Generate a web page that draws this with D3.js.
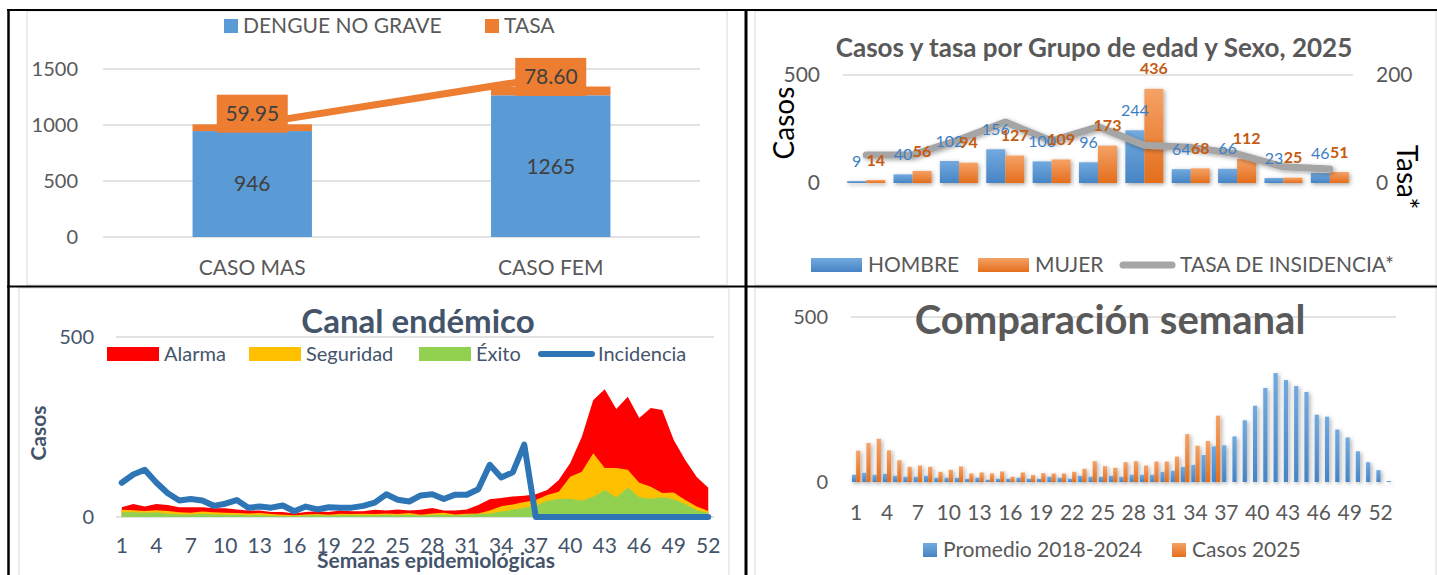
<!DOCTYPE html>
<html>
<head>
<meta charset="utf-8">
<script src="https://cdn.jsdelivr.net/npm/d3@7"></script>
<style>
    body { margin: 0; background: #fff; }
    text { font-family: Lato, "Open Sans", sans-serif; }
</style>
</head>
<body>
<div id="chart"></div>
<script>
// ---- data: casos por sexo ----
var categorias = ["CASO MAS", "CASO FEM"];
var dengueNoGrave = [946, 1265];
var tasa = [59.95, 78.60];

// ---- data: casos y tasa por grupo de edad y sexo ----
var gruposEdad = ["G1", "G2", "G3", "G4", "G5", "G6", "G7", "G8", "G9", "G10", "G11"];
var hombre = [9, 40, 102, 156, 100, 96, 244, 64, 66, 23, 46];
var mujer = [14, 56, 94, 127, 109, 173, 436, 68, 112, 25, 51];
var tasaIncidencia = [52, 52, 80, 113, 78, 104, 70, 66, 54, 30, 26];

// ---- data: canal endemico (semanas 1-52) ----
var semanasCanal = [1,2,3,4,5,6,7,8,9,10,11,12,13,14,15,16,17,18,19,20,21,22,23,24,25,26,
    27,28,29,30,31,32,33,34,35,36,37,38,39,40,41,42,43,44,45,46,47,48,49,50,51,52];
var alarma = [27,36,29,36,33,27,27,27,24,24,21,18,18,14,14,10,14,16,14,18,16,16,20,18,21,18,
    20,25,18,18,21,33,49,53,57,59,63,75,103,150,222,325,355,300,334,275,303,297,214,158,111,81];
var seguridad = [20,19,17,19,17,13,12,15,13,12,11,10,11,8,6,5,7,8,6,9,8,9,8,10,8,11,
    6,10,12,7,9,10,18,30,35,42,47,61,70,112,126,177,136,136,131,95,84,67,68,47,29,17];
var exito = [13,13,12,13,9,7,7,9,7,6,6,5,5,4,3,3,4,5,4,5,5,5,5,6,5,6,
    4,6,6,5,6,8,10,15,20,26,31,45,50,51,45,56,75,54,82,55,51,55,49,36,19,11];
var incidencia = [95,118,131,96,66,46,50,46,31,37,47,26,29,26,32,16,29,21,27,26,26,31,40,63,48,43,
    60,63,50,62,62,77,145,110,124,201,0,0,0,0,0,0,0,0,0,0,0,0,0,0,0,0];

// ---- data: comparacion semanal (semanas 1-53) ----
var semanasComp = [1,2,3,4,5,6,7,8,9,10,11,12,13,14,15,16,17,18,19,20,21,22,23,24,25,26,
    27,28,29,30,31,32,33,34,35,36,37,38,39,40,41,42,43,44,45,46,47,48,49,50,51,52,53];
var promedio = [22,28,22,25,19,16,16,19,13,13,13,10,13,7,10,10,13,10,10,16,13,10,19,16,16,19,
    16,22,22,22,31,34,46,52,82,108,111,138,187,231,285,330,309,291,273,204,198,159,135,93,60,36,3];
var casos2025 = [95,118,131,96,66,46,50,46,31,37,47,26,29,26,32,16,29,21,27,26,26,31,40,63,48,43,
    60,63,50,62,62,77,145,110,124,201];

var tickSemanas = [1,4,7,10,13,16,19,22,25,28,31,34,37,40,43,46,49,52];

var BLUE = "#5b9bd5", ORANGE = "#ed7d31", GRID = "#d9d9d9";
var GRAY_TXT = "#595959", SLATE = "#44546a";

var W = 1437, H = 575;
var svg = d3.select("#chart").append("svg")
    .attr("width", W)
    .attr("height", H);

// gradients + shadow
var defs = svg.append("defs");
function grad(id, c1, c2) {
    var g = defs.append("linearGradient").attr("id", id)
        .attr("x1", 0).attr("y1", 0).attr("x2", 0).attr("y2", 1);
    g.append("stop").attr("offset", "0%").attr("stop-color", c1);
    g.append("stop").attr("offset", "100%").attr("stop-color", c2);
}
grad("gBlue", "#72aadf", "#4784c4");
grad("gOrange", "#f5a266", "#e46e1c");
var f = defs.append("filter").attr("id", "shadow")
    .attr("x", "-30%").attr("y", "-30%").attr("width", "160%").attr("height", "160%");
f.append("feDropShadow").attr("dx", 1.5).attr("dy", 1.5).attr("stdDeviation", 2)
    .attr("flood-color", "#000").attr("flood-opacity", 0.35);

// panel frames
var frames = [[27, 11, 700, 274], [755, 11, 681, 274], [19, 288, 710, 290], [755, 288, 681, 290]];
svg.selectAll("rect.frame").data(frames).enter().append("rect")
    .attr("class", "frame")
    .attr("x", function (d) { return d[0]; })
    .attr("y", function (d) { return d[1]; })
    .attr("width", function (d) { return d[2]; })
    .attr("height", function (d) { return d[3]; })
    .style("fill", "none")
    .style("stroke", "#d9d9d9");

/*************************** Panel 1: casos por sexo ***************************/
var p1 = svg.append("g");
var x1 = d3.scaleBand().domain(categorias).range([103, 700]).paddingInner(0.6).paddingOuter(0.3);
var y1 = d3.scaleLinear().domain([0, 1500]).range([237, 69]);

p1.selectAll("line.grid").data([0, 500, 1000, 1500]).enter().append("line")
    .attr("x1", 103).attr("x2", 700)
    .attr("y1", function (d) { return y1(d); })
    .attr("y2", function (d) { return y1(d); })
    .style("stroke", GRID).style("stroke-width", 1.5);
p1.selectAll("text.tick").data([0, 500, 1000, 1500]).enter().append("text")
    .attr("x", 78).attr("y", function (d) { return y1(d); })
    .attr("dy", "0.35em")
    .style("text-anchor", "end").style("font-size", "20px").style("fill", GRAY_TXT)
    .text(function (d) { return d; });

// stacked bars
p1.selectAll("rect.dng").data(categorias).enter().append("rect")
    .attr("x", function (d) { return x1(d); })
    .attr("width", x1.bandwidth())
    .attr("y", function (d, i) { return y1(dengueNoGrave[i]); })
    .attr("height", function (d, i) { return y1(0) - y1(dengueNoGrave[i]); })
    .style("fill", BLUE);
p1.selectAll("rect.tasa").data(categorias).enter().append("rect")
    .attr("x", function (d) { return x1(d); })
    .attr("width", x1.bandwidth())
    .attr("y", function (d, i) { return y1(dengueNoGrave[i] + tasa[i]); })
    .attr("height", function (d, i) { return y1(dengueNoGrave[i]) - y1(dengueNoGrave[i] + tasa[i]); })
    .style("fill", ORANGE);

p1.selectAll("text.dngLbl").data(categorias).enter().append("text")
    .attr("x", function (d) { return x1(d) + x1.bandwidth() / 2; })
    .attr("y", function (d, i) { return y1(dengueNoGrave[i] / 2); })
    .attr("dy", "0.35em")
    .style("text-anchor", "middle").style("font-size", "21px").style("fill", "#404040")
    .text(function (d, i) { return dengueNoGrave[i]; });

// tasa label boxes and connector line
var boxW = 71, boxH = 38;
function boxCy(i) { return y1(dengueNoGrave[i] + tasa[i] / 2) - 14; }
function cx1(i) { return x1(categorias[i]) + x1.bandwidth() / 2; }
p1.append("line")
    .attr("x1", cx1(0)).attr("y1", y1(dengueNoGrave[0] + tasa[0]))
    .attr("x2", cx1(1)).attr("y2", boxCy(1))
    .style("stroke", ORANGE).style("stroke-width", 7);
p1.selectAll("rect.tasaBox").data(categorias).enter().append("rect")
    .attr("x", function (d, i) { return cx1(i) - boxW / 2; })
    .attr("y", function (d, i) { return boxCy(i) - boxH / 2; })
    .attr("width", boxW).attr("height", boxH)
    .style("fill", ORANGE);
p1.selectAll("text.tasaLbl").data(categorias).enter().append("text")
    .attr("x", function (d, i) { return cx1(i); })
    .attr("y", function (d, i) { return boxCy(i); })
    .attr("dy", "0.35em")
    .style("text-anchor", "middle").style("font-size", "21px").style("fill", "#404040")
    .text(function (d, i) { return tasa[i].toFixed(2); });

p1.selectAll("text.cat").data(categorias).enter().append("text")
    .attr("x", function (d) { return x1(d) + x1.bandwidth() / 2; })
    .attr("y", 268).attr("dy", "0.35em")
    .style("text-anchor", "middle").style("font-size", "21px").style("fill", GRAY_TXT)
    .text(function (d) { return d; });

// legend
var lg1 = [["DENGUE NO GRAVE", BLUE, 224], ["TASA", ORANGE, 485]];
lg1.forEach(function (d) {
    p1.append("rect").attr("x", d[2]).attr("y", 19).attr("width", 14).attr("height", 14).style("fill", d[1]);
    p1.append("text").attr("x", d[2] + 19).attr("y", 26).attr("dy", "0.35em")
        .style("font-size", "21px").style("fill", GRAY_TXT).text(d[0]);
});

/*************************** Panel 2: grupo de edad y sexo ***************************/
var p2 = svg.append("g");
var x2 = d3.scaleBand().domain(gruposEdad).range([843, 1353]);
var xs2 = d3.scaleBand().domain(["h", "m"]).range([0, x2.bandwidth()]).paddingOuter(0.22);
var y2 = d3.scaleLinear().domain([0, 500]).range([183, 75]);
var y2r = d3.scaleLinear().domain([0, 200]).range([183, 75]);

p2.append("line").attr("x1", 843).attr("x2", 1353).attr("y1", y2(500)).attr("y2", y2(500))
    .style("stroke", GRID).style("stroke-width", 1.5);
p2.append("line").attr("x1", 843).attr("x2", 1353).attr("y1", y2(0) + 1).attr("y2", y2(0) + 1)
    .style("stroke", GRID).style("stroke-width", 2.5).attr("filter", "url(#shadow)");

p2.selectAll("text.tl").data([0, 500]).enter().append("text")
    .attr("x", 820).attr("y", function (d) { return y2(d); }).attr("dy", "0.35em")
    .style("text-anchor", "end").style("font-size", "21px").style("fill", GRAY_TXT)
    .text(function (d) { return d; });
p2.selectAll("text.tr").data([0, 200]).enter().append("text")
    .attr("x", 1376).attr("y", function (d) { return y2r(d); }).attr("dy", "0.35em")
    .style("text-anchor", "start").style("font-size", "21px").style("fill", GRAY_TXT)
    .text(function (d) { return d; });

var bars2 = p2.append("g").attr("filter", "url(#shadow)");
bars2.selectAll("rect.h").data(gruposEdad).enter().append("rect")
    .attr("x", function (d) { return x2(d) + xs2("h"); })
    .attr("width", xs2.bandwidth())
    .attr("y", function (d, i) { return y2(hombre[i]); })
    .attr("height", function (d, i) { return y2(0) - y2(hombre[i]); })
    .style("fill", "url(#gBlue)");
bars2.selectAll("rect.m").data(gruposEdad).enter().append("rect")
    .attr("x", function (d) { return x2(d) + xs2("m"); })
    .attr("width", xs2.bandwidth())
    .attr("y", function (d, i) { return y2(mujer[i]); })
    .attr("height", function (d, i) { return y2(0) - y2(mujer[i]); })
    .style("fill", "url(#gOrange)");

// tasa line (secondary axis)
var line2 = d3.line()
    .x(function (d, i) { return x2(gruposEdad[i]) + x2.bandwidth() / 2; })
    .y(function (d) { return y2r(d); });
p2.append("path").datum(tasaIncidencia)
    .attr("d", line2)
    .attr("filter", "url(#shadow)")
    .style("fill", "none").style("stroke", "#a5a5a5").style("stroke-width", 7)
    .style("stroke-linejoin", "round").style("stroke-linecap", "round");

p2.selectAll("text.hl").data(gruposEdad).enter().append("text")
    .attr("x", function (d) { return x2(d) + xs2("h") + xs2.bandwidth() / 2; })
    .attr("y", function (d, i) { return y2(hombre[i]) - 20; }).attr("dy", "0.35em")
    .style("text-anchor", "middle").style("font-size", "16px").style("fill", "#3d7fc6")
    .text(function (d, i) { return hombre[i]; });
p2.selectAll("text.ml").data(gruposEdad).enter().append("text")
    .attr("x", function (d) { return x2(d) + xs2("m") + xs2.bandwidth() / 2; })
    .attr("y", function (d, i) { return y2(mujer[i]) - 20; }).attr("dy", "0.35em")
    .style("text-anchor", "middle").style("font-size", "16px").style("font-weight", "bold")
    .style("fill", "#c55a11")
    .text(function (d, i) { return mujer[i]; });

p2.append("text").attr("x", 1094).attr("y", 57)
    .style("text-anchor", "middle").style("font-size", "26px").style("font-weight", "bold")
    .style("fill", GRAY_TXT).text("Casos y tasa por Grupo de edad y Sexo, 2025");
p2.append("text").attr("transform", "translate(784,123) rotate(-90)").attr("dy", "0.35em")
    .style("text-anchor", "middle").style("font-size", "28px").style("fill", "#000").text("Casos");
p2.append("text").attr("transform", "translate(1407,177) rotate(90)").attr("dy", "0.35em")
    .style("text-anchor", "middle").style("font-size", "28px").style("fill", "#000").text("Tasa*");

// legend
p2.append("rect").attr("x", 811).attr("y", 258).attr("width", 51).attr("height", 14).style("fill", "url(#gBlue)");
p2.append("text").attr("x", 868).attr("y", 265).attr("dy", "0.35em")
    .style("font-size", "21px").style("fill", GRAY_TXT).text("HOMBRE");
p2.append("rect").attr("x", 978).attr("y", 258).attr("width", 51).attr("height", 14).style("fill", "url(#gOrange)");
p2.append("text").attr("x", 1035).attr("y", 265).attr("dy", "0.35em")
    .style("font-size", "21px").style("fill", GRAY_TXT).text("MUJER");
p2.append("line").attr("x1", 1123).attr("x2", 1172).attr("y1", 265).attr("y2", 265)
    .style("stroke", "#a5a5a5").style("stroke-width", 7).style("stroke-linecap", "round");
p2.append("text").attr("x", 1180).attr("y", 265).attr("dy", "0.35em")
    .style("font-size", "21px").style("fill", GRAY_TXT).text("TASA DE INSIDENCIA*");

/*************************** Panel 3: canal endemico ***************************/
var p3 = svg.append("g");
var x3 = d3.scalePoint().domain(semanasCanal).range([121.75, 708.25]);
var y3 = d3.scaleLinear().domain([0, 500]).range([517, 337]);

p3.selectAll("line.grid").data([0, 500]).enter().append("line")
    .attr("x1", 116).attr("x2", 714)
    .attr("y1", function (d) { return y3(d); })
    .attr("y2", function (d) { return y3(d); })
    .style("stroke", GRID).style("stroke-width", 1.5);
p3.selectAll("text.tick").data([0, 500]).enter().append("text")
    .attr("x", 94).attr("y", function (d) { return y3(d); }).attr("dy", "0.35em")
    .style("text-anchor", "end").style("font-size", "20px").style("fill", SLATE)
    .text(function (d) { return d; });

function area3(vals) {
    return d3.area()
        .x(function (d, i) { return x3(semanasCanal[i]); })
        .y0(y3(0))
        .y1(function (d) { return y3(d); })(vals);
}
p3.append("path").attr("d", area3(alarma)).style("fill", "#ff0000");
p3.append("path").attr("d", area3(seguridad)).style("fill", "#ffc000");
p3.append("path").attr("d", area3(exito)).style("fill", "#92d050");

var line3 = d3.line()
    .x(function (d, i) { return x3(semanasCanal[i]); })
    .y(function (d) { return y3(d); });
p3.append("path").datum(incidencia).attr("d", line3)
    .style("fill", "none").style("stroke", "#2e75b6").style("stroke-width", 6)
    .style("stroke-linejoin", "round").style("stroke-linecap", "round");

p3.selectAll("text.xt").data(tickSemanas).enter().append("text")
    .attr("x", function (d) { return x3(d); }).attr("y", 546).attr("dy", "0.35em")
    .style("text-anchor", "middle").style("font-size", "21px").style("fill", SLATE)
    .text(function (d) { return d; });

p3.append("text").attr("x", 418).attr("y", 333)
    .style("text-anchor", "middle").style("font-size", "33px").style("font-weight", "bold")
    .style("fill", SLATE).text("Canal endémico");
p3.append("text").attr("x", 436).attr("y", 568)
    .style("text-anchor", "middle").style("font-size", "21px").style("font-weight", "bold")
    .style("fill", SLATE).text("Semanas epidemiológicas");
p3.append("text").attr("transform", "translate(39,433) rotate(-90)").attr("dy", "0.35em")
    .style("text-anchor", "middle").style("font-size", "21px").style("font-weight", "bold")
    .style("fill", SLATE).text("Casos");

// legend
var lg3 = [["Alarma", "#ff0000", 107], ["Seguridad", "#ffc000", 249], ["Éxito", "#92d050", 419]];
lg3.forEach(function (d) {
    p3.append("rect").attr("x", d[2]).attr("y", 347).attr("width", 52).attr("height", 14).style("fill", d[1]);
    p3.append("text").attr("x", d[2] + 57).attr("y", 354).attr("dy", "0.35em")
        .style("font-size", "20px").style("fill", SLATE).text(d[0]);
});
p3.append("line").attr("x1", 541).attr("x2", 592).attr("y1", 354).attr("y2", 354)
    .style("stroke", "#2e75b6").style("stroke-width", 6).style("stroke-linecap", "round");
p3.append("text").attr("x", 598).attr("y", 354).attr("dy", "0.35em")
    .style("font-size", "20px").style("fill", SLATE).text("Incidencia");

/*************************** Panel 4: comparacion semanal ***************************/
var p4 = svg.append("g");
var x4 = d3.scaleBand().domain(semanasComp).range([851, 1396]);
var y4 = d3.scaleLinear().domain([0, 500]).range([482, 317]);
var bw4 = 4.2;

p4.append("line").attr("x1", 851).attr("x2", 1396).attr("y1", y4(500)).attr("y2", y4(500))
    .style("stroke", GRID).style("stroke-width", 1.5);
p4.append("line").attr("x1", 851).attr("x2", 1396).attr("y1", y4(0) + 1).attr("y2", y4(0) + 1)
    .style("stroke", GRID).style("stroke-width", 3).attr("filter", "url(#shadow)");
p4.selectAll("text.tick").data([0, 500]).enter().append("text")
    .attr("x", 828).attr("y", function (d) { return y4(d); }).attr("dy", "0.35em")
    .style("text-anchor", "end").style("font-size", "20px").style("fill", GRAY_TXT)
    .text(function (d) { return d; });

var bars4 = p4.append("g").attr("filter", "url(#shadow)");
bars4.selectAll("rect.p").data(semanasComp).enter().append("rect")
    .attr("x", function (d) { return x4(d) + x4.bandwidth() / 2 - bw4; })
    .attr("width", bw4)
    .attr("y", function (d, i) { return y4(promedio[i]); })
    .attr("height", function (d, i) { return y4(0) - y4(promedio[i]); })
    .style("fill", "url(#gBlue)");
bars4.selectAll("rect.c").data(casos2025).enter().append("rect")
    .attr("x", function (d, i) { return x4(semanasComp[i]) + x4.bandwidth() / 2; })
    .attr("width", bw4)
    .attr("y", function (d) { return y4(d); })
    .attr("height", function (d) { return y4(0) - y4(d); })
    .style("fill", "url(#gOrange)");

p4.selectAll("text.xt").data(tickSemanas).enter().append("text")
    .attr("x", function (d) { return x4(d) + x4.bandwidth() / 2; }).attr("y", 513).attr("dy", "0.35em")
    .style("text-anchor", "middle").style("font-size", "21px").style("fill", GRAY_TXT)
    .text(function (d) { return d; });

p4.append("text").attr("x", 1110).attr("y", 334)
    .style("text-anchor", "middle").style("font-size", "40px").style("font-weight", "bold")
    .style("fill", GRAY_TXT).text("Comparación semanal");

p4.append("rect").attr("x", 923).attr("y", 543).attr("width", 14).attr("height", 14).style("fill", "url(#gBlue)");
p4.append("text").attr("x", 943).attr("y", 550).attr("dy", "0.35em")
    .style("font-size", "21px").style("fill", GRAY_TXT).text("Promedio 2018-2024");
p4.append("rect").attr("x", 1172).attr("y", 543).attr("width", 14).attr("height", 14).style("fill", "url(#gOrange)");
p4.append("text").attr("x", 1192).attr("y", 550).attr("dy", "0.35em")
    .style("font-size", "21px").style("fill", GRAY_TXT).text("Casos 2025");

/*************************** black separators ***************************/
var seps = [[7, 10, 1437, 10, 2], [8.5, 10, 8.5, 575, 2.5], [746, 10, 746, 575, 3], [7, 286.5, 1437, 286.5, 2]];
svg.selectAll("line.sep").data(seps).enter().append("line")
    .attr("x1", function (d) { return d[0]; }).attr("y1", function (d) { return d[1]; })
    .attr("x2", function (d) { return d[2]; }).attr("y2", function (d) { return d[3]; })
    .style("stroke", "#000").style("stroke-width", function (d) { return d[4]; });
</script>
</body>
</html>
